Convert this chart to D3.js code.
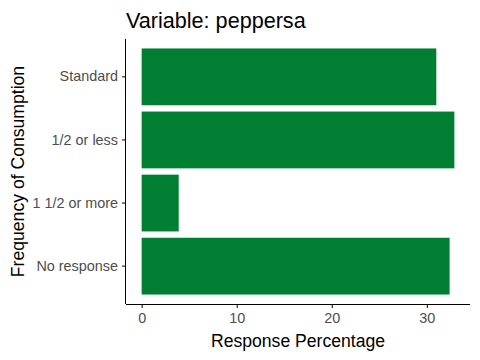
<!DOCTYPE html>
<html>
<head>
<meta charset="utf-8">
<script src="https://cdn.jsdelivr.net/npm/d3@7"></script>
<style>
body { margin: 0; background: #fff; }
svg { display: block; font-family: "Liberation Sans", Arial, sans-serif; }
.axis path, .axis line { stroke: #000; }
.axis text { fill: #4d4d4d; font-size: 14.4px; }
</style>
</head>
<body>
<svg></svg>
<script>
var categories = ["Standard", "1/2 or less", "1 1/2 or more", "No response"];
var percents = [31.0, 32.9, 3.9, 32.4];
var xTicks = [0, 10, 20, 30];

var width = 480, height = 360;
var svg = d3.select("svg").attr("width", width).attr("height", height);
var margin = {top: 39, right: 10, bottom: 56, left: 126};
var w = width - margin.left - margin.right;
var h = height - margin.top - margin.bottom;

var g = svg.append("g")
    .attr("transform", "translate(" + margin.left + "," + margin.top + ")");

// ggplot-like expansion of the continuous axis
var x = d3.scaleLinear()
    .domain([-1.645, 34.545])
    .range([0, w]);

var y = d3.scaleBand()
    .domain(categories)
    .range([0, h])
    .paddingInner(0.1)
    .paddingOuter(0.15);

g.selectAll("rect")
    .data(categories).enter()
    .append("rect")
    .attr("x", x(0))
    .attr("y", function (d) { return y(d); })
    .attr("width", function (d, i) { return x(percents[i]) - x(0); })
    .attr("height", y.bandwidth())
    .attr("fill", "#007f33");

var xAxis = g.append("g")
    .attr("class", "axis")
    .attr("transform", "translate(0," + h + ")")
    .call(d3.axisBottom(x).tickValues(xTicks).tickSize(4).tickPadding(5));
xAxis.select(".domain").attr("d", "M0,0.5H" + w);

var yAxis = g.append("g")
    .attr("class", "axis")
    .call(d3.axisLeft(y).tickSize(4).tickPadding(4));
yAxis.select(".domain").attr("d", "M-0.5,0V" + h);

svg.append("text")
    .attr("x", margin.left)
    .attr("y", 28)
    .style("font-size", "21.6px")
    .text("Variable: peppersa");

svg.append("text")
    .attr("x", margin.left + w / 2)
    .attr("y", 347)
    .attr("text-anchor", "middle")
    .style("font-size", "17.6px")
    .text("Response Percentage");

svg.append("text")
    .attr("transform", "translate(24," + (margin.top + h / 2) + ") rotate(-90)")
    .attr("text-anchor", "middle")
    .style("font-size", "17.6px")
    .text("Frequency of Consumption");
</script>
</body>
</html>
